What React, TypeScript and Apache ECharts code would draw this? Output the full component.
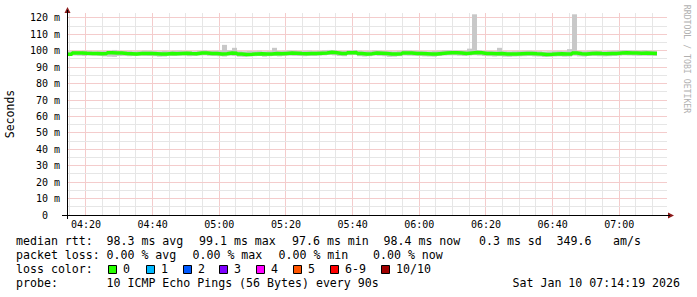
import React, { useEffect, useRef } from "react";
import * as echarts from "echarts";

// ---- data (minutes after 04:00, ms values) ----
const START_MIN = 14 + 19 / 60; // 04:14:19
const SPAN_MIN = 180; // 3 hours
const STEP_MIN = 1.5; // 90 s probe step

const median: number[] = [
  97.9, 98.6, 98.7, 98.5, 98.4, 98.4, 98.2, 98.3, 98.8, 98.7,
  98.6, 98.3, 98.2, 98.1, 98.3, 98.4, 98.3, 98.2, 98.1, 98.0,
  98.3, 98.2, 98.4, 98.5, 98.3, 98.2, 98.6, 98.7, 98.4, 98.3,
  98.1, 98.2, 98.6, 98.5, 98.0, 97.8, 97.9, 98.1, 98.2, 98.0,
  98.1, 98.3, 98.2, 98.4, 98.6, 98.5, 98.3, 98.2, 98.4, 98.3,
  98.5, 98.7, 99.1, 98.8, 98.4, 98.3, 98.8, 98.9, 98.4, 98.1,
  98.2, 98.6, 98.5, 98.3, 98.1, 98.0, 98.2, 98.7, 98.6, 98.4,
  98.3, 98.2, 98.1, 98.0, 98.4, 98.7, 98.8, 98.8, 98.6, 98.4,
  98.7, 98.9, 98.8, 98.4, 98.3, 98.2, 98.3, 98.1, 98.0, 98.1,
  98.2, 98.3, 98.4, 98.2, 98.1, 97.8, 97.9, 98.1, 98.2, 98.0,
  98.1, 98.6, 98.2, 98.1, 98.4, 98.5, 98.3, 98.2, 98.3, 98.4,
  98.6, 98.8, 98.7, 98.6, 98.5, 98.6, 98.5, 98.4,
];

const smokeLow: number[] = [
  96.9, 97.1, 97.0, 96.8, 97.1, 97.0, 96.9, 96.6, 96.4, 96.3,
  96.8, 96.9, 96.7, 96.8, 97.0, 96.9, 96.8, 96.7, 96.4, 96.5,
  96.9, 96.8, 97.0, 97.1, 96.7, 96.8, 97.1, 97.2, 96.9, 96.8,
  96.7, 96.5, 97.0, 96.8, 96.4, 96.3, 96.5, 96.7, 96.8, 96.4,
  96.7, 96.8, 96.6, 96.9, 97.0, 96.9, 96.8, 96.7, 96.9, 96.8,
  97.0, 97.2, 97.4, 97.2, 96.8, 96.7, 97.3, 97.4, 96.7, 96.5,
  96.7, 97.1, 96.9, 96.7, 96.3, 96.4, 96.7, 97.1, 97.0, 96.9,
  96.8, 96.6, 96.5, 96.4, 96.8, 97.1, 97.2, 97.2, 97.0, 96.8,
  97.1, 97.3, 97.1, 96.8, 96.7, 96.5, 96.7, 96.4, 96.3, 96.5,
  96.6, 96.7, 96.8, 96.6, 96.5, 96.2, 96.3, 96.5, 96.6, 96.4,
  96.5, 97.0, 96.6, 96.5, 96.8, 96.9, 96.7, 96.6, 96.7, 96.8,
  97.0, 97.2, 97.1, 97.0, 96.9, 97.0, 96.9, 96.8,
];

const smokeHigh: number[] = [
  99.7, 99.9, 99.8, 100.0, 99.9, 99.7, 99.8, 99.9, 100.1, 100.5,
  100.0, 99.8, 99.9, 99.7, 99.8, 100.1, 100.0, 99.8, 99.7, 99.9,
  99.8, 100.0, 100.1, 99.9, 99.8, 99.7, 100.0, 100.3, 99.9, 100.0,
  100.1, 103.6, 100.3, 101.8, 99.8, 99.7, 99.9, 99.8, 100.0, 99.7,
  99.8, 101.8, 99.9, 100.0, 100.2, 100.1, 99.9, 100.0, 100.1, 99.8,
  100.0, 100.3, 100.5, 100.4, 100.0, 99.9, 100.3, 100.4, 100.1, 99.8,
  99.9, 100.2, 100.1, 99.9, 99.8, 99.7, 99.9, 100.3, 100.2, 100.0,
  99.9, 99.8, 99.7, 99.9, 100.0, 100.3, 100.4, 100.3, 100.2, 100.1,
  101.3, 122.2, 100.4, 100.0, 99.9, 99.8, 101.8, 99.8, 99.7, 99.8,
  99.9, 100.0, 100.1, 99.9, 99.8, 99.6, 99.7, 99.8, 99.9, 99.8,
  101.0, 122.2, 99.9, 99.8, 100.0, 100.1, 99.9, 99.8, 100.0, 100.1,
  100.2, 100.4, 100.3, 100.2, 100.1, 100.3, 100.1, 100.0,
];

const xLabelValues: number[] = [20, 40, 60, 80, 100, 120, 140, 160, 180];
const xMinorGrid: number[] = [
  15, 25, 30, 35, 45, 50, 55, 65, 70, 75, 85, 90, 95, 105, 110, 115, 125, 130,
  135, 145, 150, 155, 165, 170, 175, 185, 190,
];
const yMajorGrid: number[] = [10, 20, 30, 40, 50, 60, 70, 80, 90, 100, 110, 120];
const yMinorGrid: number[] = [5, 15, 25, 35, 45, 55, 65, 75, 85, 95, 105, 115];

const Y_MAX = 123;

// legend tokens: [x pixel, text]
const legendRow1: [number, string][] = [
  [16, "median rtt:"],
  [106.5, "98.3 ms avg"],
  [199, "99.1 ms max"],
  [292, "97.6 ms min"],
  [383.5, "98.4 ms now"],
  [479, "0.3 ms sd"],
  [556.5, "349.6"],
  [613, "am/s"],
];
const legendRow2: [number, string][] = [
  [16, "packet loss:"],
  [106.5, "0.00 % avg"],
  [192.5, "0.00 % max"],
  [278.5, "0.00 % min"],
  [373, "0.00 % now"],
];
const lossLabels: string[] = ["0", "1", "2", "3", "4", "5", "6-9", "10/10"];
const lossColors: string[] = [
  "#26ff00",
  "#00b8ff",
  "#0059ff",
  "#7e00ff",
  "#ff00ff",
  "#ff5500",
  "#ff0000",
  "#a10000",
];
const lossBoxX: number[] = [108, 146, 183, 219, 256, 293, 330, 381];
const legendRow4: [number, string][] = [
  [16, "probe:"],
  [106.5, "10 ICMP Echo Pings (56 Bytes) every 90s"],
  [512.5, "Sat Jan 10 07:14:19 2026"],
];

const MONO = "'DejaVu Sans Mono', monospace";

export default function App() {
  const ref = useRef<HTMLDivElement>(null);

  useEffect(() => {
    if (!ref.current) return;
    const chart = echarts.init(ref.current, undefined, { renderer: "svg" });

    const times = median.map((_, i) => START_MIN + i * STEP_MIN);
    const smokeData = times.map((t, i) => [t, smokeLow[i], smokeHigh[i]]);
    const medianData: number[][] = times.map((t, i) => [t, median[i]]);
    medianData.push([times[times.length - 1] + STEP_MIN, median[median.length - 1]]);

    const MAJOR = "#f4cccc";
    const MINOR = "#e6e6e6";
    const vGrid = [
      ...xMinorGrid.map((v) => [v, 0, 0]),
      ...xLabelValues.map((v) => [v, 0, 1]),
    ];
    const hGrid = [
      ...yMinorGrid.map((v) => [START_MIN, v, 0]),
      ...yMajorGrid.map((v) => [START_MIN, v, 1]),
    ];
    const snap = (p: number) => Math.round(p - 0.5) + 0.5;

    const textEl = (x: number, y: number, s: string, extra: any = {}) => ({
      type: "text",
      x,
      y,
      style: {
        text: s,
        font: `11.6px ${MONO}`,
        fill: "#000",
        textVerticalAlign: "middle",
        ...extra,
      },
      silent: true,
    });

    const graphics: any[] = [];
    legendRow1.forEach(([x, s]) => graphics.push(textEl(x, 241, s)));
    legendRow2.forEach(([x, s]) => graphics.push(textEl(x, 255, s)));
    graphics.push(textEl(16, 269, "loss color:"));
    lossLabels.forEach((s, i) => {
      graphics.push({
        type: "rect",
        shape: { x: lossBoxX[i] + 0.5, y: 265.5, width: 8, height: 8 },
        style: { fill: lossColors[i], stroke: "#000", lineWidth: 1 },
        silent: true,
      });
      graphics.push(textEl(lossBoxX[i] + 15, 269, s));
    });
    legendRow4.forEach(([x, s]) => graphics.push(textEl(x, 283, s)));

    graphics.push({
      type: "text",
      x: 10,
      y: 114,
      rotation: Math.PI / 2,
      style: {
        text: "Seconds",
        font: `11.5px ${MONO}`,
        fill: "#000",
        textAlign: "center",
        textVerticalAlign: "middle",
      },
      silent: true,
    });
    graphics.push({
      type: "text",
      x: 687,
      y: 59,
      rotation: -Math.PI / 2,
      style: {
        text: "RRDTOOL / TOBI OETIKER",
        font: `8.2px ${MONO}`,
        fill: "#b0b0b0",
        textAlign: "center",
        textVerticalAlign: "middle",
      },
      silent: true,
    });
    // axis lines and arrows
    graphics.push({
      type: "line",
      z: 100,
      shape: { x1: 67.5, y1: 219, x2: 67.5, y2: 10 },
      style: { stroke: "#000", lineWidth: 1 },
      silent: true,
    });
    graphics.push({
      type: "line",
      z: 100,
      shape: { x1: 62, y1: 215.5, x2: 670, y2: 215.5 },
      style: { stroke: "#000", lineWidth: 1 },
      silent: true,
    });
    graphics.push({
      type: "polygon",
      shape: { points: [[64.5, 13], [70.5, 13], [67.5, 7]] },
      style: { fill: "#8b1a1a" },
      silent: true,
    });
    graphics.push({
      type: "polygon",
      shape: { points: [[668, 212.5], [668, 218.5], [674, 215.5]] },
      style: { fill: "#8b1a1a" },
      silent: true,
    });

    const fmtTime = (v: number) => {
      const h = 4 + Math.floor(v / 60);
      const m = Math.round(v % 60);
      return `${String(h).padStart(2, "0")}:${String(m).padStart(2, "0")}`;
    };

    const gridRender = (vertical: boolean) => (params: any, api: any) => {
      if (vertical) {
        const v = api.value(0);
        const a = api.coord([v, 0]);
        const b = api.coord([v, Y_MAX]);
        const x = snap(a[0]);
        return {
          type: "line",
          shape: { x1: x, y1: Math.round(a[1]), x2: x, y2: Math.round(b[1]) },
          style: { stroke: api.value(2) ? MAJOR : MINOR, lineWidth: 1 },
        };
      }
      const v = api.value(1);
      const a = api.coord([START_MIN, v]);
      const b = api.coord([START_MIN + SPAN_MIN, v]);
      const y = snap(a[1]);
      return {
        type: "line",
        shape: { x1: Math.round(a[0]), y1: y, x2: Math.round(b[0]), y2: y },
        style: { stroke: api.value(2) ? MAJOR : MINOR, lineWidth: 1 },
      };
    };

    chart.setOption({
      animation: false,
      backgroundColor: "#fff",
      grid: { left: 67, top: 13, width: 600, height: 202 },
      xAxis: {
        type: "value",
        min: START_MIN,
        max: START_MIN + SPAN_MIN,
        axisLine: { show: false },
        axisTick: { show: false },
        splitLine: { show: false },
        axisLabel: {
          customValues: xLabelValues,
          formatter: (v: number) => fmtTime(v),
          fontFamily: MONO,
          fontSize: 10,
          color: "#000",
          margin: 4,
        },
      },
      yAxis: {
        type: "value",
        min: 0,
        max: Y_MAX,
        interval: 10,
        axisLine: { show: false },
        axisTick: { show: false },
        splitLine: { show: false },
        axisLabel: {
          fontFamily: MONO,
          fontSize: 10,
          color: "#000",
          margin: 7,
          formatter: (v: number) => {
            if (v > 120 || v % 10 !== 0) return "";
            if (v === 0) return "{z|0}";
            return `${v} m`;
          },
          rich: {
            z: { padding: [0, 12, 0, 0], fontFamily: MONO, fontSize: 10, color: "#000" },
          },
        },
      },
      graphic: graphics,
      series: [
        {
          type: "custom",
          z: 1,
          silent: true,
          data: vGrid,
          encode: { x: 0, y: 1 },
          renderItem: gridRender(true),
        },
        {
          type: "custom",
          z: 1,
          silent: true,
          data: hGrid,
          encode: { x: 0, y: 1 },
          renderItem: gridRender(false),
        },
        {
          type: "custom",
          z: 2,
          silent: true,
          data: smokeData,
          encode: { x: 0, y: [1, 2] },
          renderItem: (params: any, api: any) => {
            const t = api.value(0);
            const p1 = api.coord([t, api.value(2)]);
            const p2 = api.coord([t + STEP_MIN, api.value(1)]);
            return {
              type: "rect",
              shape: { x: p1[0], y: p1[1], width: p2[0] - p1[0], height: p2[1] - p1[1] },
              style: { fill: "#c8c8c8" },
            };
          },
        },
        {
          type: "line",
          z: 3,
          silent: true,
          step: "end",
          showSymbol: false,
          data: medianData,
          lineStyle: { color: "#26ff00", width: 3.5 },
        },
      ],
    });

    return () => chart.dispose();
  }, []);

  return (
    <div
      ref={ref}
      style={{ position: "fixed", left: 0, top: 0, width: 697, height: 297, background: "#fff" }}
    />
  );
}
